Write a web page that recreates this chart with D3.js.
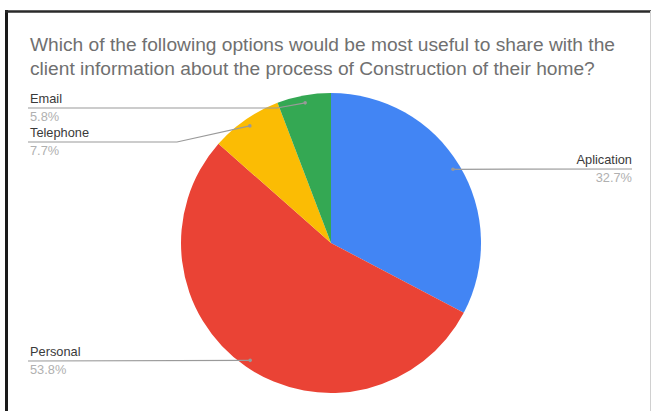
<!DOCTYPE html>
<html>
<head>
<meta charset="utf-8">
<script src="https://cdn.jsdelivr.net/npm/d3@7"></script>
<style>
  html, body { margin: 0; padding: 0; background: #fff; }
  svg { display: block; }
</style>
</head>
<body>
<svg id="chart" width="651" height="411"></svg>
<script>
// Survey answers, in drawing order (clockwise from 12 o'clock)
const categories = ["Aplication", "Personal", "Telephone", "Email"];
const shares = [32.7, 53.8, 7.7, 5.8];
const colors = ["#4285f4", "#ea4335", "#fbbc04", "#34a853"];
const titleLines = [
  "Which of the following options would be most useful to share with the",
  "client information about the process of Construction of their home?"
];

const svg = d3.select("#chart");
const W = 651, H = 411;
const FONT = "Liberation Sans, Arial, sans-serif";

// frame
svg.append("rect").attr("x", 0).attr("y", 0).attr("width", W).attr("height", H).attr("fill", "#fff");
svg.append("line").attr("x1", 6.5).attr("x2", 6.5).attr("y1", 10).attr("y2", H)
  .attr("stroke", "#1a1a1a").attr("stroke-width", 3);
svg.append("line").attr("x1", 5).attr("x2", W).attr("y1", 11.5).attr("y2", 11.5)
  .attr("stroke", "#2a2a2a").attr("stroke-width", 2.5);
svg.append("line").attr("x1", 650.5).attr("x2", 650.5).attr("y1", 11).attr("y2", H)
  .attr("stroke", "#d0d0d0").attr("stroke-width", 1);

// title: the face is a wide sans, so stretch both lines by a common factor
const titleSel = svg.append("g").selectAll("text").data(titleLines).join("text")
  .attr("x", 30).attr("y", (d, i) => 51 + i * 24)
  .attr("font-family", FONT)
  .attr("font-size", 17.5).attr("fill", "#707070")
  .text(d => d);
const firstLen = titleSel.nodes()[0].getComputedTextLength();
const stretch = 585 / firstLen;
titleSel.each(function () {
  const len = this.getComputedTextLength();
  d3.select(this).attr("textLength", len * stretch).attr("lengthAdjust", "spacingAndGlyphs");
});

// pie
const cx = 331, cy = 243, R = 150;
const data = categories.map((c, i) => ({ name: c, value: shares[i], color: colors[i] }));
const pie = d3.pie().value(d => d.value).sort(null);
const arcs = pie(data);
const arc = d3.arc().innerRadius(0).outerRadius(R);

const g = svg.append("g").attr("transform", `translate(${cx},${cy})`);
g.selectAll("path").data(arcs).join("path")
  .attr("d", arc).attr("fill", d => d.data.color);

// leader anchor at 95% of the radius, on each slice's mid angle
function anchor(d) {
  const a = (d.startAngle + d.endAngle) / 2;
  const r = R * 0.95;
  return [cx + r * Math.sin(a), cy - r * Math.cos(a)];
}

// label layout: side, underline height, bend point for the leader
const layout = {
  "Aplication": { side: "right", lineY: 169 },
  "Personal":   { side: "left",  lineY: 361 },
  "Telephone":  { side: "left",  lineY: 142, bendX: 177 },
  "Email":      { side: "left",  lineY: 108, bendX: 277 }
};
const leftX = 28, rightX = 632;

const labels = svg.append("g");
arcs.forEach(d => {
  const L = layout[d.data.name];
  const [ax, ay] = anchor(d);
  let pts;
  if (L.side === "right") {
    pts = [[ax, ay], [rightX, L.lineY]];
  } else if (L.bendX) {
    pts = [[leftX, L.lineY], [L.bendX, L.lineY], [ax, ay]];
  } else {
    pts = [[leftX, L.lineY], [ax, ay]];
  }
  labels.append("path")
    .attr("d", d3.line()(pts))
    .attr("fill", "none").attr("stroke", "#9a9a9a").attr("stroke-width", 1.2);
  labels.append("circle").attr("cx", ax).attr("cy", ay).attr("r", 1.8).attr("fill", "#999");

  const tx = L.side === "right" ? rightX : leftX + 2;
  const anchorAttr = L.side === "right" ? "end" : "start";
  labels.append("text")
    .attr("x", tx).attr("y", L.lineY - 5.5)
    .attr("text-anchor", anchorAttr)
    .attr("font-family", FONT)
    .attr("font-size", 12.8).attr("fill", "#3a3a3a")
    .text(d.data.name);
  labels.append("text")
    .attr("x", tx).attr("y", L.lineY + 13)
    .attr("text-anchor", anchorAttr)
    .attr("font-family", FONT)
    .attr("font-size", 12.8).attr("fill", "#b0b0b0")
    .text(d.data.value.toFixed(1) + "%");
});
</script>
</body>
</html>
